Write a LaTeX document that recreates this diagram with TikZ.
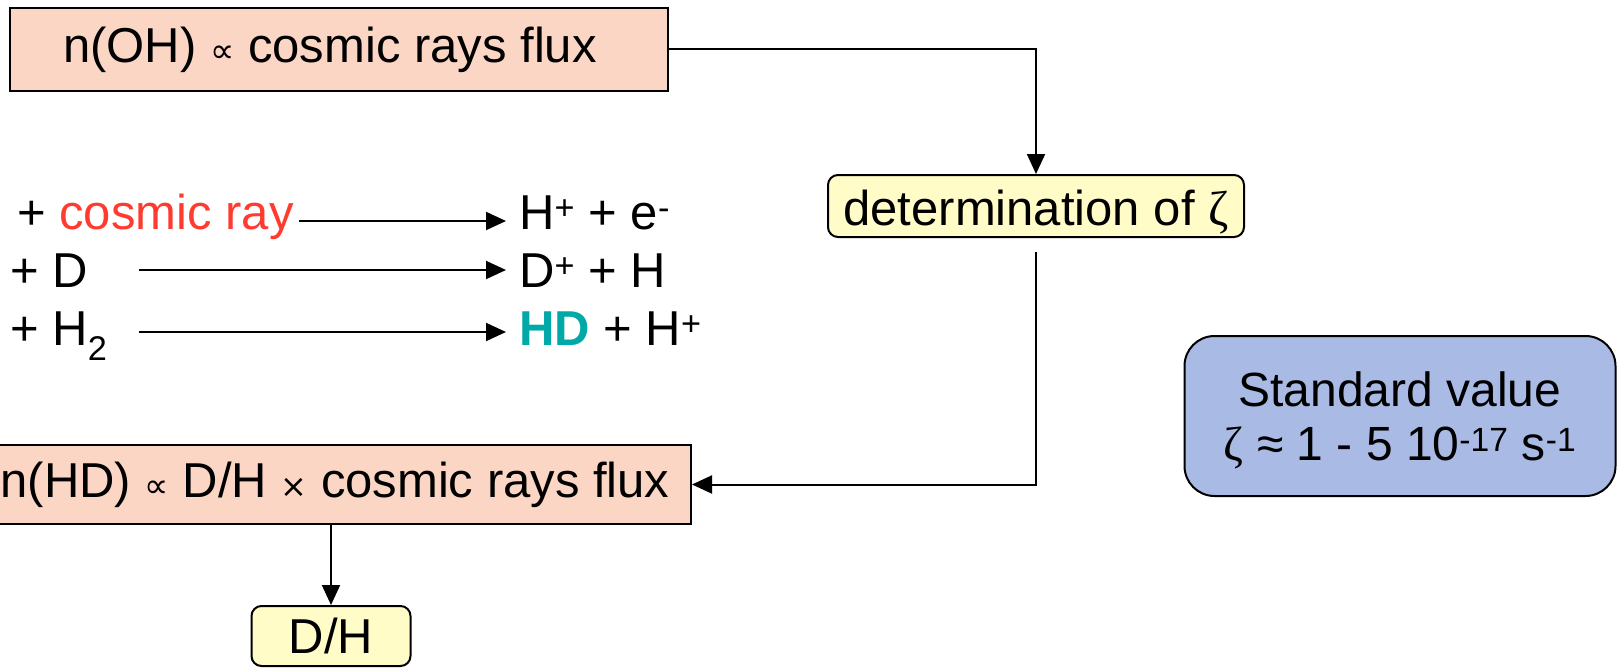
\documentclass[tikz,border=0pt]{standalone}
\usepackage{fontspec}
\setmainfont{Liberation Sans}
\newfontfamily\greekserif{Liberation Serif}
\newfontfamily\dejavu{DejaVu Sans}
\usetikzlibrary{arrows.meta}
\definecolor{salmonfill}{RGB}{252,214,196}
\definecolor{paleyellow}{RGB}{255,252,200}
\definecolor{paleblue}{RGB}{169,186,228}
\definecolor{cray}{RGB}{255,59,48}
\definecolor{hdteal}{RGB}{0,168,168}
\newcommand{\propsym}{{\dejavu\fontsize{34}{34}\selectfont ∝}}
\newcommand{\timessym}{{\dejavu\fontsize{32}{32}\selectfont ×}}
\newcommand{\zetasym}{{\greekserif ζ}}
\tikzset{
  pbox/.style={draw=black, line width=2pt, fill=salmonfill, inner sep=0pt},
  ybox/.style={draw=black, line width=2pt, fill=paleyellow, rounded corners=10pt, inner sep=0pt},
  bbox/.style={draw=black, line width=2pt, fill=paleblue, rounded corners=30pt, inner sep=0pt, align=center},
  txt/.style={inner sep=0pt},
  conn/.style={line width=2pt, -{Triangle[length=20pt,width=18pt]}}
}
\begin{document}
\begin{tikzpicture}[x=1pt,y=-1pt,font=\fontsize{49}{55}\selectfont]
\useasboundingbox (0,0) rectangle (1619,669);
% boxes
\node[pbox, minimum width=658pt, minimum height=83pt] (oh) at (339,49.5) {\hspace*{-18pt}n(OH) \propsym{} cosmic rays flux};
\node[ybox, minimum width=416pt, minimum height=62pt, text height=42pt, text depth=4pt] (det) at (1036,206) {determination of \zetasym};
\node[pbox, minimum width=720pt, minimum height=79pt] (hd) at (331,484.5) {\hspace*{8pt}n(HD) \propsym{} D/H \timessym{} cosmic rays flux};
\node[ybox, minimum width=159pt, minimum height=60pt] (dh) at (331,636) {D/H};
\node[bbox, minimum width=431pt, minimum height=160pt, font=\fontsize{48}{54}\selectfont] (std) at (1400,416) {\rule{0pt}{44pt}Standard value\\ \zetasym{} ≈ 1 - 5 10\textsuperscript{-17} s\textsuperscript{-1}};
% reactions
\node[txt, anchor=base west] (l1) at (17,229) {+ \textcolor{cray}{cosmic ray}};
\node[txt, anchor=base west] (r1) at (519,229) {H\textsuperscript{+} + e\textsuperscript{-}};
\node[txt, anchor=base west] (l2) at (10,287) {+ D};
\node[txt, anchor=base west] (r2) at (519,287) {D\textsuperscript{+} + H};
\node[txt, anchor=base west] (l3) at (10,345) {+ H\textsubscript{2}};
\node[txt, anchor=base west] (r3) at (519,345) {{\bfseries\color{hdteal}HD} + H\textsuperscript{+}};
\coordinate (a1) at (299,221);
\coordinate (a2) at (139,270);
\coordinate (a3) at (139,332);
\draw[conn, shorten >=13pt] (a1) -- (a1 -| r1.west);
\draw[conn, shorten >=13pt] (a2) -- (a2 -| r2.west);
\draw[conn, shorten >=13pt] (a3) -- (a3 -| r3.west);
% flow connectors
\draw[conn] (oh.east) -| (det.north);
\draw[conn, shorten <=14pt] (det.south) |- (hd.east);
\draw[conn] (hd.south) -- (dh.north);
\end{tikzpicture}
\end{document}
